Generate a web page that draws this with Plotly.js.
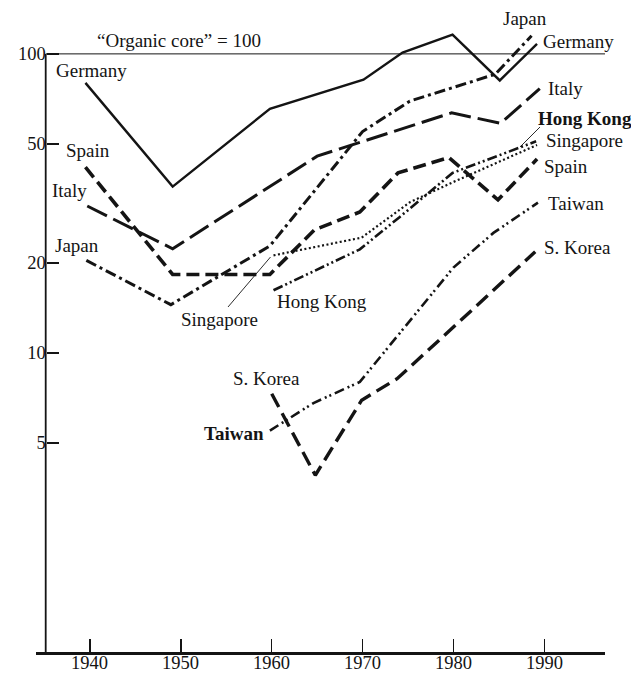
<!DOCTYPE html>
<html>
<head>
<meta charset="utf-8">
<script src="https://cdn.plot.ly/plotly-3.0.1.min.js"></script>
<style>html,body{margin:0;padding:0;background:#fff;}#chart{width:631px;height:674px;}</style>
</head>
<body>
<div id="chart"></div>
<script>
// ---- data (index "Organic core" = 100, log scale) ----
const germanyYears   = [1939.5, 1949.1, 1959.8, 1970.1, 1974.4, 1979.9, 1985.1, 1989.2];
const germanyValues  = [80, 36, 65.5, 82, 101, 116, 81.5, 108];

const japanYears     = [1939.6, 1948.9, 1959.8, 1970.0, 1975.2, 1984.6, 1988.6];
const japanValues    = [20.4, 14.5, 22.8, 55, 69.5, 85.5, 115];

const italyYears     = [1939.7, 1949.1, 1965.0, 1979.8, 1985.2, 1989.5];
const italyValues    = [31, 22.3, 45.5, 63.5, 58.6, 76.5];

const spainYears     = [1939.5, 1949.1, 1959.8, 1964.7, 1969.7, 1973.9, 1979.5, 1984.9, 1989.2];
const spainValues    = [41.8, 18.3, 18.3, 25.8, 29.6, 40, 45, 32.5, 44.5];

const hongKongYears  = [1960.2, 1969.7, 1974.1, 1979.9, 1989.1];
const hongKongValues = [16.2, 22.2, 28.5, 40, 51];

const singaporeYears  = [1960.2, 1969.9, 1975.2, 1980.0, 1989.2];
const singaporeValues = [21.2, 24.3, 31.9, 37.3, 49.6];

const taiwanYears    = [1959.8, 1964.6, 1969.7, 1980.0, 1984.4, 1989.3];
const taiwanValues   = [5.5, 6.8, 8.0, 19.3, 25.2, 31.8];

const koreaYears     = [1960.0, 1964.8, 1969.9, 1973.8, 1980.0, 1989.0];
const koreaValues    = [7.3, 3.9, 6.95, 8.2, 12.2, 21.8];

const xTickVals = [1940, 1950, 1960, 1970, 1980, 1990];
const yTickVals = [5, 10, 20, 50, 100];
const yTickText = ['5', '10', '20', '50', '100'];

// ---- layout helpers (pixel -> paper) ----
const ML = 36, MR = 26, MT = 18, MB = 22, W = 631, H = 674;
const PW = W - ML - MR, PH = H - MT - MB;
const fx = x => (x - ML) / PW;
const fy = y => (H - MB - y) / PH;
const FONT = 'Liberation Serif, Times New Roman, serif';
const INK = '#141414';
const X0 = 1934.06, X1 = 1996.68;

function line(name, xs, ys, width, dash) {
  return {type: 'scatter', mode: 'lines', name: name, x: xs, y: ys,
          line: {color: INK, width: width, dash: dash}, hoverinfo: 'name+x+y'};
}

const traces = [
  line('Germany',   germanyYears,   germanyValues,   2.4, 'solid'),
  line('Italy',     italyYears,     italyValues,     3.0, '22px,7px'),
  line('Spain',     spainYears,     spainValues,     3.6, '13px,6px'),
  line('Japan',     japanYears,     japanValues,     3.0, '11px,4px,3px,4px'),
  line('Hong Kong', hongKongYears,  hongKongValues,  2.6, '10px,3px,2px,3px,2px,3px'),
  line('Singapore', singaporeYears, singaporeValues, 2.2, '2px,2.5px'),
  line('Taiwan',    taiwanYears,    taiwanValues,    2.6, '10px,4px,2px,3px,2px,4px'),
  line('S. Korea',  koreaYears,     koreaValues,     3.4, '15px,7px')
];

function lab(text, cx, cy, bold) {
  return {xref: 'paper', yref: 'paper', x: fx(cx), y: fy(cy), xanchor: 'center', yanchor: 'middle',
          text: bold ? '<b>' + text + '</b>' : text, showarrow: false,
          font: {family: FONT, size: 19, color: INK}};
}

const annotations = [
  lab('\u201COrganic core\u201D = 100', 179, 40),
  lab('Germany', 91, 70), lab('Spain', 88, 150), lab('Italy', 69, 190), lab('Japan', 77, 245),
  lab('Singapore', 219, 319), lab('Hong Kong', 322, 301),
  lab('S. Korea', 266, 378), lab('Taiwan', 234, 434, true),
  lab('Japan', 525, 19), lab('Germany', 578, 41), lab('Italy', 565, 89),
  lab('Hong Kong', 585, 118, true), lab('Singapore', 584, 140), lab('Spain', 566, 166),
  lab('Taiwan', 576, 204), lab('S. Korea', 577, 248)
];
// x tick labels, placed tight under the axis as in the reference
xTickVals.forEach(v => annotations.push({
  xref: 'x', yref: 'paper', x: v, y: fy(663), xanchor: 'center', yanchor: 'middle',
  text: String(v), showarrow: false, font: {family: FONT, size: 18.5, color: INK}
}));

const axisX = X0 + (45.7 - ML) / PW * (X1 - X0);

const shapes = [
  // left axis line, from 1 to 100
  {type: 'line', xref: 'x', yref: 'y', x0: axisX, x1: axisX, y0: 1, y1: 100,
   line: {color: INK, width: 1.8}},
  // "Organic core" = 100 reference line
  {type: 'line', xref: 'x', yref: 'y', x0: axisX, x1: X1, y0: 100, y1: 100,
   line: {color: INK, width: 1}},
  // leader lines
  {type: 'line', xref: 'paper', yref: 'paper', x0: fx(228), y0: fy(307), x1: fx(270.5), y1: fy(257),
   line: {color: INK, width: 0.9}},
  {type: 'line', xref: 'paper', yref: 'paper', x0: fx(520), y0: fy(147), x1: fx(540), y1: fy(127),
   line: {color: INK, width: 0.9}}
];

const layout = {
  width: W, height: H,
  margin: {l: ML, r: MR, t: MT, b: MB, pad: 0},
  paper_bgcolor: '#fff', plot_bgcolor: '#fff',
  showlegend: false,
  font: {family: FONT, color: INK, size: 19},
  xaxis: {
    range: [X0, X1], tickvals: xTickVals, showticklabels: false,
    ticks: 'inside', ticklen: 13, tickwidth: 1.5, tickcolor: INK,
    showline: true, linewidth: 2.6, linecolor: INK, showgrid: false, zeroline: false,
    fixedrange: true
  },
  yaxis: {
    type: 'log', range: [0, 2.12], anchor: 'free', position: fx(45.7),
    tickvals: yTickVals, ticktext: yTickText,
    ticks: 'inside', ticklen: 12, tickwidth: 2, tickcolor: INK,
    showline: false, showgrid: false, zeroline: false,
    tickfont: {family: FONT, size: 18.5, color: INK}, fixedrange: true
  },
  annotations: annotations,
  shapes: shapes
};

Plotly.newPlot('chart', traces, layout, {displayModeBar: false, staticPlot: true});
</script>
</body>
</html>
